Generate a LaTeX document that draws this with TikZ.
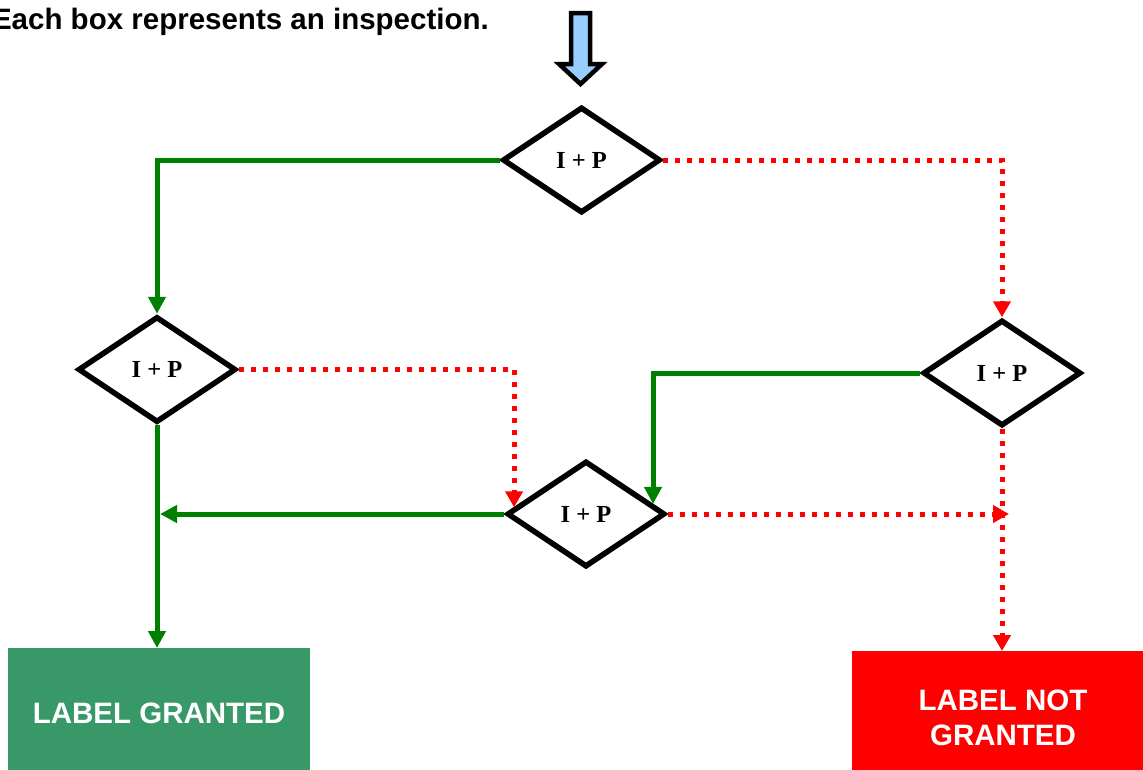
\documentclass[tikz,border=0pt]{standalone}
\usepackage{fontspec}
\setmainfont{Liberation Serif}
\newfontfamily\labelsans{Liberation Sans}
\usetikzlibrary{shapes.geometric,arrows.meta,calc}

\definecolor{okgreen}{RGB}{0,128,0}
\definecolor{nored}{RGB}{255,0,0}
\definecolor{grantbox}{RGB}{56,152,104}
\definecolor{arrowblue}{RGB}{153,204,255}

\tikzset{
  inspect/.style={diamond, draw=black, line width=5.5pt, fill=white,
    minimum width=158pt, minimum height=106pt, inner sep=0pt,
    font=\fontsize{24.5}{28}\selectfont\bfseries},
  result/.style={rectangle, minimum width=302pt, inner sep=0pt,
    text=white, align=center,
    font=\labelsans\fontsize{29.5}{35}\selectfont\bfseries},
  pass/.style={draw=okgreen, line width=5pt,
    -{Triangle[length=17pt,width=17pt]}},
  fail/.style={draw=nored, line width=5pt, dash pattern=on 5pt off 7pt,
    -{Triangle[length=16pt,width=17pt]}},
  entry/.style={draw=black, line width=4.5pt, fill=arrowblue, line join=miter}
}

\begin{document}
\begin{tikzpicture}[x=1pt,y=-1pt]
\useasboundingbox (0,0) rectangle (1143,769);
\clip (0,0) rectangle (1143,769);

% heading
\node[anchor=base east, inner sep=0pt,
      font=\labelsans\fontsize{29.5}{34}\selectfont\bfseries]
  (note) at (489,29) {Each box represents an inspection.};

% entry arrow
\draw[entry] (571,13) -- (590,13) -- (590,64) -- (602,64) -- (580.5,84)
  -- (559,64) -- (571,64) -- cycle;

% inspections
\node[inspect] (D1) at (581.5,160) {I + P};
\node[inspect] (D2) at (157,369.5) {I + P};
\node[inspect] (D3) at (1002,373) {I + P};
\node[inspect] (D4) at (586,514) {I + P};

% outcomes
\node[result, fill=grantbox, minimum height=130pt, anchor=north]
  (OK) at (159,648) {LABEL GRANTED};
\node[result, fill=nored, minimum height=133pt, anchor=north]
  (NO) at (1003,651) {LABEL NOT\\GRANTED};

% points where arrows meet the lower inspection
\coordinate (D4in1) at ($(D4.west)!0.12!(D4.north)$);
\coordinate (D4in2) at ($(D4.east)!0.18!(D4.north)$);
\coordinate (joinL) at ([xshift=3pt]D2.south |- D4.west);
\coordinate (joinR) at ([xshift=7pt]D3.south |- D4.east);

% passed
\draw[pass] (D1.west) -| (D2.north);
\draw[pass] (D3.west) -| (D4in2);
\draw[pass] (D4.west) -- (joinL);
\draw[pass] (D2.south) -- (D2.south |- OK.north);

% failed
\draw[fail] (D1.east) -| (D3.north);
\draw[fail] (D2.east) -| (D4in1);
\draw[fail] (D4.east) -- (joinR);
\draw[fail] (D3.south) -- (D3.south |- NO.north);

\end{tikzpicture}
\end{document}
